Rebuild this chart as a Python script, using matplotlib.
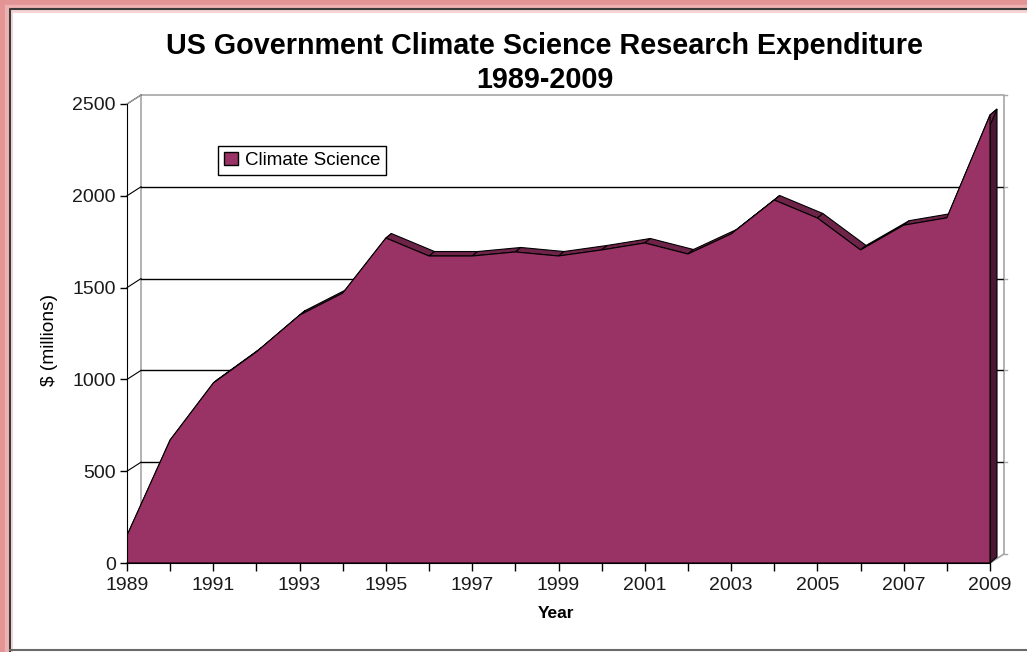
import matplotlib
matplotlib.use('Agg')
import matplotlib.pyplot as plt
from matplotlib.patches import Polygon, Rectangle
from matplotlib.lines import Line2D
import numpy as np

plt.rcParams['font.family'] = ['Liberation Sans', 'DejaVu Sans']

# data ($ millions)
years = [1989, 1990, 1991, 1992, 1993, 1994, 1995, 1996, 1997, 1998, 1999,
         2000, 2001, 2002, 2003, 2004, 2005, 2006, 2007, 2008, 2009]
spend = [150, 670, 980, 1150, 1350, 1470, 1770, 1672, 1672, 1694, 1672,
         1705, 1743, 1683, 1792, 1977, 1879, 1705, 1840, 1880, 2440]
yticks = [0, 500, 1000, 1500, 2000, 2500]
xlabels = [str(y) if (y - 1989) % 2 == 0 else '' for y in years]

W, H = 1027, 652
fig = plt.figure(figsize=(W / 100, H / 100), dpi=100)
fig.patch.set_facecolor('white')

# pixel geometry of the front plane
x0, x1 = 127, 990      # 1989 .. 2009
y0, y2500 = 563, 104   # 0 .. 2500
top_px, right_px = 95, 1004
pxyr = (x1 - x0) / 20.0
pxval = (y0 - y2500) / 2500.0

ax = fig.add_axes([x0 / W, (H - y0) / H, (right_px - x0) / W, (y0 - top_px) / H])
ax.set_xlim(1989, 2009 + (right_px - x1) / pxyr)
ax.set_ylim(0, (y0 - top_px) / pxval)
ax.set_facecolor('none')

# depth of the back wall and of the area series, in data units
wdx, wdy = 14 / pxyr, 9 / pxval
adx, ady = 5.5 / pxyr, 4.5 / pxval
sdx, sdy = 7 / pxyr, 6 / pxval   # right side face looks a little deeper

# back wall frame
bx0, bx1 = 1989 + wdx, 2009 + wdx
ax.plot([bx0, bx0, bx1, bx1], [wdy, 2500 + wdy, 2500 + wdy, wdy], color='#a6a6a6', lw=1.2, clip_on=False)
ax.plot([2009, bx1], [0, wdy], color='#a6a6a6', lw=1.2, clip_on=False)
for v in yticks:
    if 0 < v < 2500:
        ax.plot([bx0, bx1], [v + wdy, v + wdy], color='black', lw=1.0)
    ax.plot([1989, bx0], [v, v + wdy], color='black', lw=0.8, clip_on=False)
    ax.plot([bx1, bx1 + 3 / pxyr], [v + wdy, v + wdy], color='#a6a6a6', lw=1.0, clip_on=False)
ax.plot([1989, bx0], [2500, 2500 + wdy], color='#a6a6a6', lw=0.8, clip_on=False)

# floor edge
ax.plot([1989 + 0.05, 2009], [12, 12], color='#9a9a9a', lw=2.5, zorder=2)

# right side face
side = [(2009, 0), (2009, spend[-1]), (2009 + sdx, spend[-1] + sdy), (2009 + sdx, sdy)]
ax.add_patch(Polygon(side, closed=True, facecolor='#4a1832', edgecolor='black', lw=0.8, zorder=3))

# top faces of the 3D area
for i in range(len(years) - 1):
    xa, xb = years[i], years[i + 1]
    ya, yb = spend[i], spend[i + 1]
    if i == len(years) - 2:
        ex, ey = sdx, sdy
    else:
        ex, ey = adx, ady
    quad = [(xa, ya), (xb, yb), (xb + ex, yb + ey), (xa + adx, ya + ady)]
    ax.add_patch(Polygon(quad, closed=True, facecolor='#6e2449', edgecolor='black', lw=0.8, zorder=3))

# front face
front = [(years[0], 0)] + list(zip(years, spend)) + [(years[-1], 0)]
ax.add_patch(Polygon(front, closed=True, facecolor='#993366', edgecolor='black', lw=0.8, zorder=4))

# front axes
for s in ['top', 'right']:
    ax.spines[s].set_visible(False)
ax.spines['left'].set_bounds(0, 2500)
ax.spines['bottom'].set_bounds(1989, 2009)
ax.spines['left'].set_zorder(5)
ax.spines['bottom'].set_zorder(5)
ax.set_yticks(yticks)
ax.set_yticklabels([str(v) for v in yticks], fontsize=14, color='#1a1a1a')
ax.set_xticks(years)
ax.set_xticklabels(xlabels, fontsize=14, color='#1a1a1a')
ax.tick_params(axis='y', direction='out', length=5, width=1, pad=3)
ax.tick_params(axis='x', direction='out', length=6, width=1, pad=4)

# legend
handle = Rectangle((0, 0), 1, 1, facecolor='#993366', edgecolor='black', lw=1)
leg = fig.legend([handle], ['Climate Science'], loc='upper left',
                 bbox_to_anchor=(218 / W, 1 - 146 / H), borderaxespad=0,
                 fontsize=13.5, fancybox=False, framealpha=1, edgecolor='black',
                 handlelength=0.75, handleheight=0.75, handletextpad=0.4,
                 borderpad=0.3)
leg.get_frame().set_linewidth(1.0)

# texts
fig.text(545 / W, 1 - 46 / H, 'US Government Climate Science Research Expenditure',
         ha='center', va='center', fontsize=20.7, fontweight='bold')
fig.text(545 / W, 1 - 80 / H, '1989-2009', ha='center', va='center', fontsize=20.7, fontweight='bold')
fig.text(50 / W, 1 - 340 / H, '$ (millions)', rotation=90, ha='center', va='center', fontsize=13.8)
fig.text(556 / W, 1 - 614 / H, 'Year', ha='center', va='center', fontsize=12.5, fontweight='bold')

# frame around the chart
for lw, col in [(18, '#f6d4d4'), (12, '#eeb0b0'), (7, '#e39595')]:
    fig.add_artist(Line2D([0, 0, 1.02], [0, 1, 1], transform=fig.transFigure,
                          color=col, lw=lw, solid_capstyle='butt'))
fig.add_artist(Line2D([10 / W, 10 / W, 1.01], [0, 1 - 9 / H, 1 - 9 / H], transform=fig.transFigure,
                      color='#3a3a3a', lw=1.5))
fig.add_artist(Line2D([10 / W, 1.01], [2 / H, 2 / H], transform=fig.transFigure,
                      color='#6a6a6a', lw=1.5))

fig.savefig('out.png', dpi=100)
